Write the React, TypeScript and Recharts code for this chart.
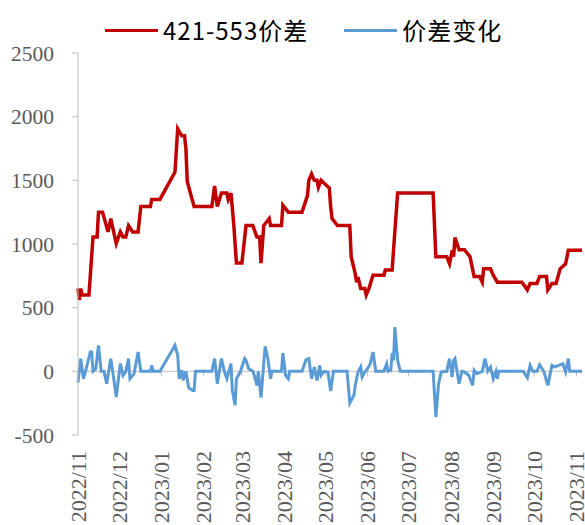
import { LineChart, Line, XAxis, YAxis, ReferenceLine } from "recharts";

const spreadDates = [
  "2022-11-01", "2022-11-02", "2022-11-03", "2022-11-04", "2022-11-09", "2022-11-12", "2022-11-15", "2022-11-16",
  "2022-11-19", "2022-11-23", "2022-11-25", "2022-11-29", "2022-12-02", "2022-12-04", "2022-12-06", "2022-12-08",
  "2022-12-11", "2022-12-15", "2022-12-17", "2022-12-24", "2022-12-25", "2022-12-31", "2023-01-11", "2023-01-13",
  "2023-01-16", "2023-01-18", "2023-01-19", "2023-01-20", "2023-01-25", "2023-02-07", "2023-02-09", "2023-02-11",
  "2023-02-14", "2023-02-18", "2023-02-19", "2023-02-21", "2023-02-23", "2023-02-25", "2023-03-01", "2023-03-04",
  "2023-03-09", "2023-03-12", "2023-03-14", "2023-03-15", "2023-03-17", "2023-03-21", "2023-03-22", "2023-03-30",
  "2023-03-31", "2023-04-04", "2023-04-14", "2023-04-18", "2023-04-19", "2023-04-21", "2023-04-23", "2023-04-25",
  "2023-04-26", "2023-04-28", "2023-05-02", "2023-05-04", "2023-05-05", "2023-05-06", "2023-05-10", "2023-05-19",
  "2023-05-20", "2023-05-23", "2023-05-24", "2023-05-25", "2023-05-27", "2023-05-30", "2023-05-31", "2023-06-02",
  "2023-06-05", "2023-06-13", "2023-06-14", "2023-06-19", "2023-06-20", "2023-06-23", "2023-07-19", "2023-07-21",
  "2023-07-29", "2023-07-31", "2023-08-02", "2023-08-03", "2023-08-04", "2023-08-07", "2023-08-11", "2023-08-15",
  "2023-08-18", "2023-08-22", "2023-08-24", "2023-08-25", "2023-08-30", "2023-09-01", "2023-09-04", "2023-09-22",
  "2023-09-26", "2023-09-28", "2023-10-03", "2023-10-05", "2023-10-10", "2023-10-11", "2023-10-14", "2023-10-17",
  "2023-10-20", "2023-10-24", "2023-10-26", "2023-11-05",
];
const spreadValues = [
  650, 560, 650, 600, 600, 1055, 1055, 1250,
  1250, 1095, 1200, 1005, 1095, 1055, 1055, 1145,
  1095, 1095, 1295, 1295, 1350, 1350, 1565, 1905,
  1850, 1850, 1750, 1490, 1295, 1295, 1455, 1295,
  1400, 1400, 1350, 1400, 1160, 850, 850, 1145,
  1145, 1055, 1055, 850, 1145, 1200, 1145, 1145,
  1305, 1250, 1250, 1380, 1500, 1550, 1500, 1500,
  1445, 1500, 1460, 1440, 1290, 1200, 1145, 1145,
  900, 765, 700, 740, 650, 650, 600, 650,
  755, 755, 795, 795, 950, 1400, 1400, 900,
  900, 845, 950, 900, 1050, 955, 955, 900,
  745, 745, 700, 805, 805, 755, 700, 700,
  640, 690, 690, 745, 745, 640, 690, 690,
  805, 845, 950, 950,
];

const changeDates = [
  "2022-11-01", "2022-11-03", "2022-11-05", "2022-11-07", "2022-11-10", "2022-11-11", "2022-11-12", "2022-11-14",
  "2022-11-16", "2022-11-18", "2022-11-20", "2022-11-22", "2022-11-25", "2022-11-27", "2022-11-29", "2022-12-02",
  "2022-12-04", "2022-12-06", "2022-12-08", "2022-12-09", "2022-12-12", "2022-12-15", "2022-12-17", "2022-12-24",
  "2022-12-25", "2022-12-26", "2022-12-31", "2023-01-11", "2023-01-13", "2023-01-14", "2023-01-16", "2023-01-17",
  "2023-01-19", "2023-01-21", "2023-01-24", "2023-01-25", "2023-01-26", "2023-02-07", "2023-02-09", "2023-02-11",
  "2023-02-14", "2023-02-16", "2023-02-18", "2023-02-21", "2023-02-22", "2023-02-24", "2023-02-25", "2023-02-28",
  "2023-03-03", "2023-03-04", "2023-03-06", "2023-03-09", "2023-03-10", "2023-03-12", "2023-03-13", "2023-03-15",
  "2023-03-18", "2023-03-20", "2023-03-22", "2023-03-23", "2023-03-30", "2023-03-31", "2023-04-02", "2023-04-04",
  "2023-04-05", "2023-04-14", "2023-04-17", "2023-04-19", "2023-04-21", "2023-04-23", "2023-04-25", "2023-04-27",
  "2023-04-28", "2023-04-30", "2023-05-03", "2023-05-05", "2023-05-07", "2023-05-17", "2023-05-19", "2023-05-22",
  "2023-05-23", "2023-05-25", "2023-05-27", "2023-05-28", "2023-05-30", "2023-06-01", "2023-06-03", "2023-06-05",
  "2023-06-07", "2023-06-13", "2023-06-15", "2023-06-16", "2023-06-18", "2023-06-19", "2023-06-20", "2023-06-21",
  "2023-06-23", "2023-06-25", "2023-07-19", "2023-07-21", "2023-07-23", "2023-07-25", "2023-07-29", "2023-07-31",
  "2023-08-02", "2023-08-03", "2023-08-04", "2023-08-07", "2023-08-09", "2023-08-11", "2023-08-14", "2023-08-17",
  "2023-08-18", "2023-08-20", "2023-08-24", "2023-08-26", "2023-08-28", "2023-08-30", "2023-09-01", "2023-09-03",
  "2023-09-04", "2023-09-05", "2023-09-23", "2023-09-26", "2023-09-28", "2023-09-30", "2023-10-03", "2023-10-05",
  "2023-10-08", "2023-10-11", "2023-10-14", "2023-10-16", "2023-10-19", "2023-10-22", "2023-10-24", "2023-10-26",
  "2023-10-27", "2023-11-05",
];
const changeValues = [
  -90, 100, -58, 20, 152, 152, 0, 20,
  204, 0, 0, -97, 100, -45, -202, 60,
  -31, 0, 100, -58, -20, 152, 0, 0,
  47, 0, 0, 204, 126, -58, 8, -71,
  0, -128, -150, -150, 0, 0, 100, -97,
  100, 5, -58, 60, -150, -267, -58, 0,
  100, 85, 20, 0, -31, -110, 0, -207,
  196, 100, -58, 0, 0, 144, -31, -58,
  0, 0, 92, 100, -58, 34, -71, 47,
  -31, 0, -5, -155, 0, 0, -249, -189,
  -110, -5, 34, -45, -5, 21, 60, 152,
  0, 0, 60, 0, 8, 144, 86, 348,
  86, 0, 0, -359, -97, -5, 0, 100,
  -45, 86, 100, -97, 0, -5, -31, -110,
  8, -18, 0, 100, 0, 34, -58, 0,
  -58, 0, 0, -50, 47, 0, 0, 52,
  0, -110, 47, 34, 47, 60, -5, 100,
  0, 0,
];

const monthLabels = [
  "2022/11", "2022/12", "2023/01", "2023/02", "2023/03", "2023/04", "2023/05",
  "2023/06", "2023/07", "2023/08", "2023/09", "2023/10", "2023/11",
];
const yTicks = [-500, 0, 500, 1000, 1500, 2000, 2500];

const START = Date.UTC(2022, 10, 1);
const toDay = (s: string) => {
  const [y, m, d] = s.split(/[-/]/).map(Number);
  return Math.round((Date.UTC(y, m - 1, d || 1) - START) / 86400000);
};

const spreadData = spreadDates.map((d, i) => ({ day: toDay(d), value: spreadValues[i] }));
const changeData = changeDates.map((d, i) => ({ day: toDay(d), value: changeValues[i] }));
const monthTicks = monthLabels.map(toDay);
const labelByDay: Record<number, string> = {};
monthTicks.forEach((t, i) => (labelByDay[t] = monthLabels[i]));

const AXIS = "#bfbfbf";
const TEXT = "#595959";
const SERIF = "'Liberation Serif', 'Times New Roman', serif";

function MonthTick({ x, y, payload }: any) {
  return (
    <text
      x={x}
      y={y}
      transform={`rotate(-90 ${x} ${y})`}
      textAnchor="end"
      dy="0.35em"
      fill={TEXT}
      fontSize={22}
      fontFamily={SERIF}
    >
      {labelByDay[payload.value]}
    </text>
  );
}

function LegendItem({ color, label }: { color: string; label: string }) {
  return (
    <div style={{ display: "flex", alignItems: "center", marginRight: 36 }}>
      <div style={{ width: 53, height: 3, background: color, marginRight: 5 }} />
      <span style={{ fontSize: 24, color: "#000", fontFamily: "'Noto Sans CJK SC', sans-serif", letterSpacing: 1 }}>
        {label}
      </span>
    </div>
  );
}

export default function App() {
  return (
    <div style={{ position: "absolute", left: 0, top: 0, width: 585, height: 525, background: "#fff", overflow: "hidden" }}>
      <div style={{ position: "absolute", left: 105, top: 14, display: "flex", lineHeight: "32px" }}>
        <LegendItem color="#C00000" label="421-553价差" />
        <LegendItem color="#5B9BD5" label="价差变化" />
      </div>
      <LineChart width={585} height={525} margin={{ top: 53, right: 3, bottom: 0, left: 0 }}>
        <XAxis
          dataKey="day"
          type="number"
          domain={[0, 369]}
          ticks={monthTicks}
          interval={0}
          axisLine={false}
          tickLine={false}
          tickSize={0}
          tickMargin={16}
          height={90}
          tick={<MonthTick />}
        />
        <YAxis
          type="number"
          domain={[-500, 2500]}
          ticks={yTicks}
          width={78}
          stroke={AXIS}
          tickSize={6}
          tickMargin={18}
          tick={{ fill: TEXT, fontSize: 21.5, fontFamily: SERIF }}
        />
        <ReferenceLine y={0} stroke={AXIS} strokeWidth={1} />
        {monthTicks.map((t) => (
          <ReferenceLine
            key={t}
            segment={[
              { x: t, y: 0 },
              { x: t, y: -40 },
            ]}
            stroke={AXIS}
            strokeWidth={1}
          />
        ))}
        <Line
          data={spreadData}
          dataKey="value"
          name="421-553价差"
          stroke="#C00000"
          strokeWidth={3.5}
          dot={false}
          type="linear"
          isAnimationActive={false}
        />
        <Line
          data={changeData}
          dataKey="value"
          name="价差变化"
          stroke="#5B9BD5"
          strokeWidth={3}
          dot={false}
          type="linear"
          isAnimationActive={false}
        />
      </LineChart>
    </div>
  );
}
